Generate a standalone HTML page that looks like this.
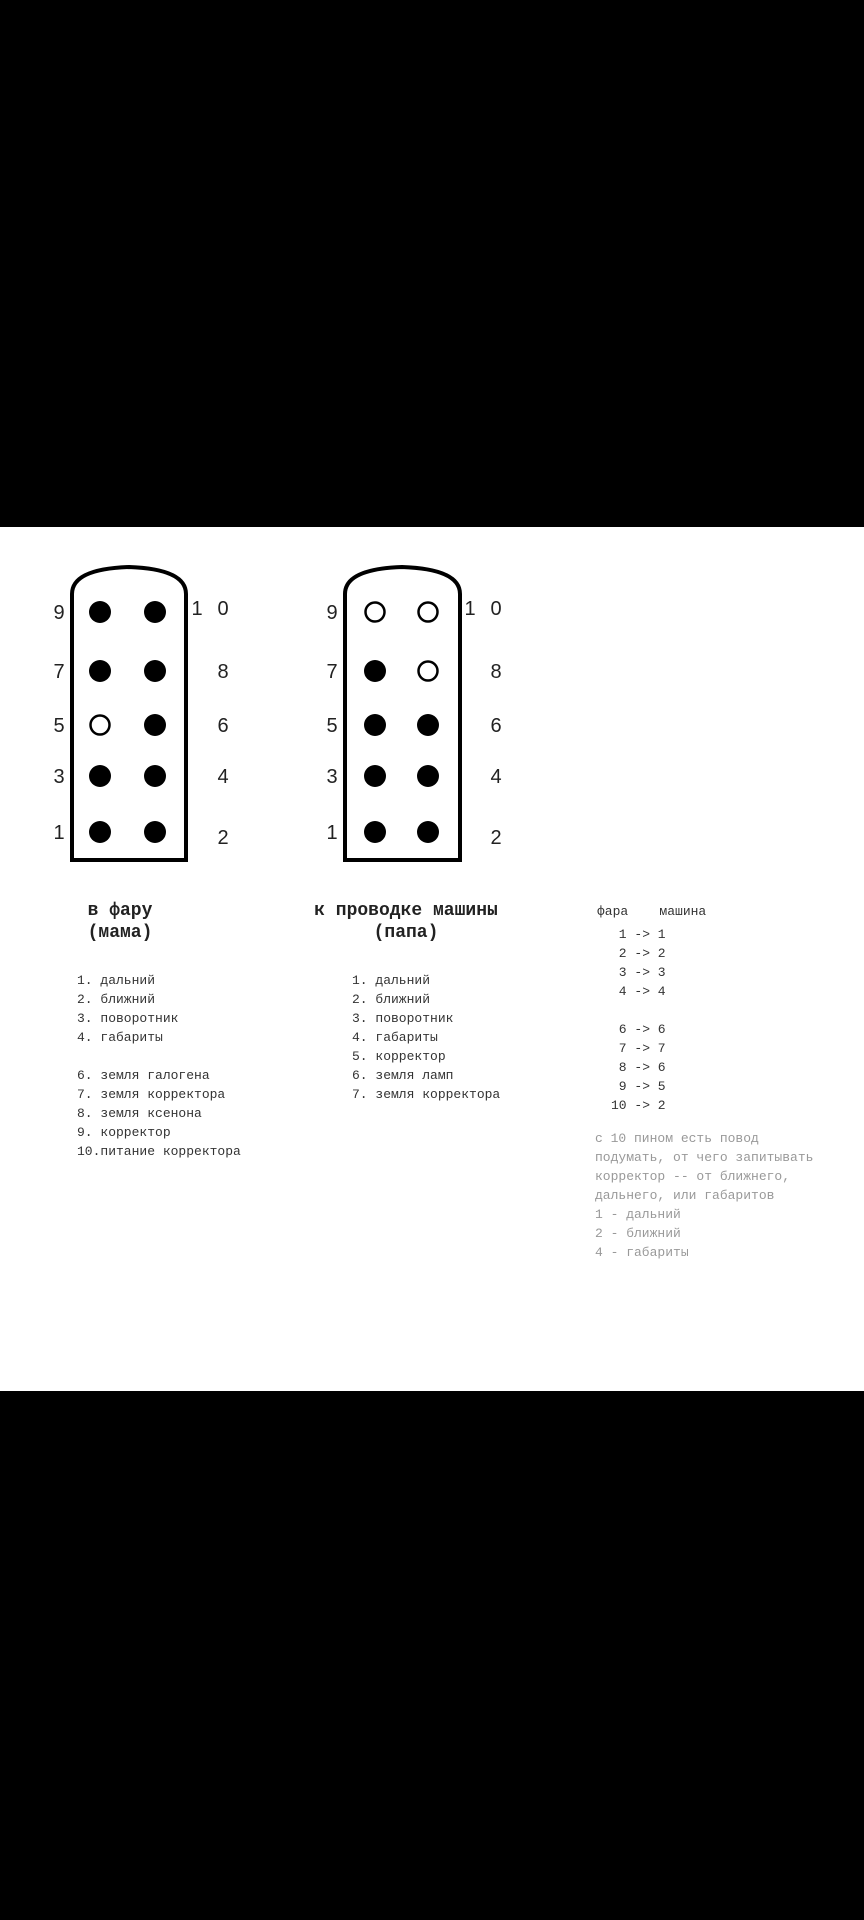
<!DOCTYPE html>
<html><head><meta charset="utf-8"><style>
body{margin:0;width:864px;height:1920px;background:#000;position:relative;overflow:hidden}
.w{position:absolute;left:0;top:527px;width:864px;height:864px;background:#fff}
.t{position:absolute;font-family:"Liberation Mono","DejaVu Sans Mono",monospace;color:#333;white-space:pre;line-height:19px;font-size:13px}
.h{position:absolute;font-family:"Liberation Mono",monospace;font-size:18px;color:#222;text-align:center;line-height:22px;white-space:pre;font-weight:bold}
.g{color:#999}
</style></head><body>
<div class="w"></div>
<svg width="864" height="1920" style="position:absolute;left:0;top:0" font-family="Liberation Sans, sans-serif" font-size="20" fill="#222">
<g fill="none" stroke="#000" stroke-width="4">
<path d="M72,860 L72,594 Q72,569 129,567 Q186,569 186,594 L186,860 Z"/>
<path d="M345,860 L345,594 Q345,569 402,567 Q460,569 460,594 L460,860 Z"/>
</g>
<g fill="#000">
<circle cx="100" cy="612" r="11"/><circle cx="155" cy="612" r="11"/>
<circle cx="100" cy="671" r="11"/><circle cx="155" cy="671" r="11"/>
<circle cx="155" cy="725" r="11"/>
<circle cx="100" cy="776" r="11"/><circle cx="155" cy="776" r="11"/>
<circle cx="100" cy="832" r="11"/><circle cx="155" cy="832" r="11"/>
<circle cx="375" cy="671" r="11"/>
<circle cx="375" cy="725" r="11"/><circle cx="428" cy="725" r="11"/>
<circle cx="375" cy="776" r="11"/><circle cx="428" cy="776" r="11"/>
<circle cx="375" cy="832" r="11"/><circle cx="428" cy="832" r="11"/>
</g>
<g fill="none" stroke="#000" stroke-width="2.5">
<circle cx="100" cy="725" r="9.5"/>
<circle cx="375" cy="612" r="9.5"/><circle cx="428" cy="612" r="9.5"/>
<circle cx="428" cy="671" r="9.5"/>
</g>
<g text-anchor="middle">
<text x="59" y="619">9</text><text x="59" y="678">7</text><text x="59" y="732">5</text><text x="59" y="783">3</text><text x="59" y="839">1</text>
<text x="197" y="615">1</text><text x="223" y="615">0</text>
<text x="223" y="678">8</text><text x="223" y="732">6</text><text x="223" y="783">4</text><text x="223" y="844">2</text>
<text x="332" y="619">9</text><text x="332" y="678">7</text><text x="332" y="732">5</text><text x="332" y="783">3</text><text x="332" y="839">1</text>
<text x="470" y="615">1</text><text x="496" y="615">0</text>
<text x="496" y="678">8</text><text x="496" y="732">6</text><text x="496" y="783">4</text><text x="496" y="844">2</text>
</g>
</svg>
<div class="h" style="left:40px;top:900px;width:160px">в фару
(мама)</div>
<div class="h" style="left:296px;top:900px;width:220px">к проводке машины
(папа)</div>
<div class="t" style="left:77px;top:971px">1. дальний
2. ближний
3. поворотник
4. габариты

6. земля галогена
7. земля корректора
8. земля ксенона
9. корректор
10.питание корректора</div>
<div class="t" style="left:352px;top:971px">1. дальний
2. ближний
3. поворотник
4. габариты
5. корректор
6. земля ламп
7. земля корректора</div>
<div class="t" style="left:597px;top:902px">фара    машина</div>
<div class="t" style="left:611px;top:925px"> 1 -> 1
 2 -> 2
 3 -> 3
 4 -> 4

 6 -> 6
 7 -> 7
 8 -> 6
 9 -> 5
10 -> 2</div>
<div class="t g" style="left:595px;top:1129px">с 10 пином есть повод
подумать, от чего запитывать
корректор -- от ближнего,
дальнего, или габаритов
1 - дальний
2 - ближний
4 - габариты</div>
</body></html>
